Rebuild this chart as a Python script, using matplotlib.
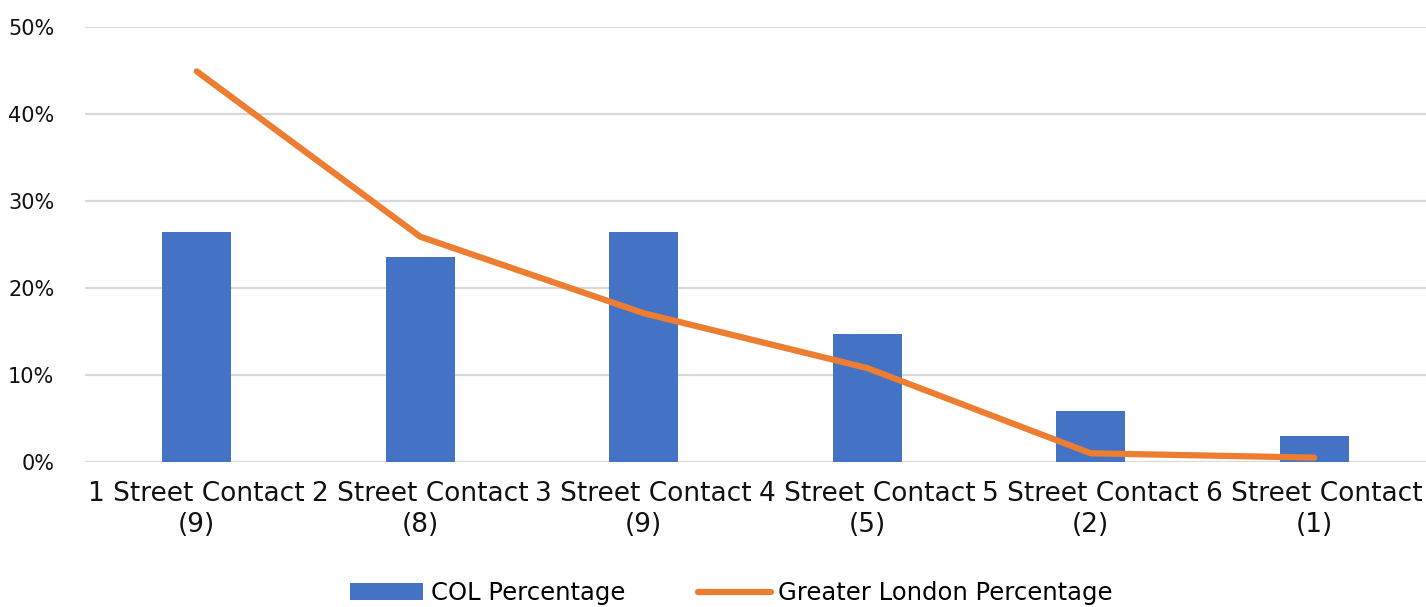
import matplotlib
matplotlib.use("Agg")
import matplotlib.pyplot as plt
from matplotlib.ticker import PercentFormatter

categories = ["1 Street Contact", "2 Street Contact", "3 Street Contact",
              "4 Street Contact", "5 Street Contact", "6 Street Contact"]
counts = [9, 8, 9, 5, 2, 1]
col_pct = [0.2647, 0.2353, 0.2647, 0.1471, 0.0588, 0.0294]
london_pct = [0.449, 0.259, 0.171, 0.108, 0.010, 0.005]

plt.rcParams['font.family'] = ['DejaVu Sans']

fig = plt.figure(figsize=(14.26, 6.07), dpi=100)
ax = fig.add_axes([0.0596, 0.2389, 0.9404, 0.7166])

x = list(range(len(categories)))
bars = ax.bar(x, col_pct, width=0.31, color="#4472C4", label="COL Percentage", zorder=2)
line, = ax.plot(x, london_pct, color="#ED7D31", lw=4.5, solid_capstyle="round",
                label="Greater London Percentage", zorder=3)

ax.set_xlim(-0.5, len(categories) - 0.5)
ax.set_ylim(0, 0.5)
ax.set_yticks([0, 0.1, 0.2, 0.3, 0.4, 0.5])
ax.yaxis.set_major_formatter(PercentFormatter(1.0, decimals=0))
ax.set_xticks(x)
ax.set_xticklabels([f"{c}\n({n})" for c, n in zip(categories, counts)], linespacing=1.25)
ax.tick_params(axis="both", length=0, colors="#111111")
ax.tick_params(axis="y", labelsize=15, pad=22)
ax.tick_params(axis="x", labelsize=19, pad=14)
ax.grid(axis="y", color="#d9d9d9", lw=1.6, zorder=0)
ax.set_axisbelow(True)
for s in ax.spines.values():
    s.set_visible(False)

fig.legend([bars, line], ["COL Percentage", "Greater London Percentage"],
           loc="center", bbox_to_anchor=(0.513, 0.023), ncol=2, frameon=False,
           fontsize=17.5, handlelength=3.0, handleheight=0.7, columnspacing=3.0,
           handletextpad=0.3)

fig.savefig("out.png", dpi=100)
